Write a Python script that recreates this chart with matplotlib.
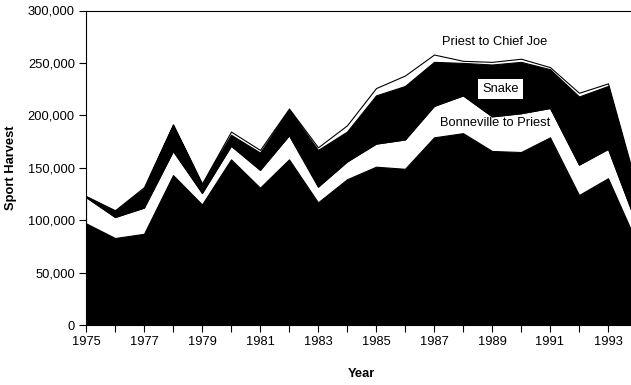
import matplotlib.pyplot as plt
from matplotlib.ticker import FuncFormatter

plt.rcParams['font.family'] = ['Liberation Sans', 'DejaVu Sans']

years = list(range(1975, 1995))
# sport harvest by reach (fish)
below_bonneville = [97000, 83000, 87000, 143000, 115000, 158000, 131000, 158000, 117000, 139000,
                    151000, 149000, 179000, 183000, 166000, 165000, 179000, 124000, 140000, 78000]
bonneville_priest = [25000, 20000, 25000, 23000, 11000, 13000, 17000, 23000, 15000, 17000,
                     22000, 28000, 30000, 36000, 33000, 37000, 28000, 29000, 28000, 17000]
snake = [500, 5500, 18000, 24500, 8000, 10500, 16500, 24000, 35000, 28500,
         46000, 51000, 42000, 31000, 49500, 49000, 37000, 65000, 60000, 33000]
priest_chief_joe = [500, 1000, 1500, 1000, 1000, 3000, 2500, 1500, 2500, 6000,
                    7000, 10000, 7000, 2000, 2500, 3000, 2000, 3500, 2500, 3000]

fig = plt.figure(figsize=(6.31, 3.85), dpi=100)
ax = fig.add_axes([86 / 631, 60 / 385, 551 / 631, 314.5 / 385])

ax.stackplot(years, below_bonneville, bonneville_priest, snake, priest_chief_joe,
             colors=['black', 'white', 'black', 'white'],
             edgecolor='black', linewidth=0.8)

ax.set_xlim(1975, 1994)
ax.set_ylim(0, 300000)
ax.set_xticks(years)
ax.set_xticklabels([str(y) if y % 2 == 1 else '' for y in years])
ax.set_yticks(range(0, 300001, 50000))
ax.yaxis.set_major_formatter(FuncFormatter(lambda v, p: f'{int(v):,}'))
ax.tick_params(direction='out', length=5, width=0.8, labelsize=9.3, pad=3)
ax.spines['right'].set_visible(False)
for s in ['left', 'top', 'bottom']:
    ax.spines[s].set_linewidth(0.8)

ax.set_xlabel('Year', fontsize=9.3, fontweight='bold', labelpad=14)
ax.set_ylabel('Sport Harvest', fontsize=9.3, fontweight='bold', labelpad=8)

ax.text(1989.1, 270000, 'Priest to Chief Joe', fontsize=9.3, ha='center', va='center')
ax.text(1989.3, 225000, 'Snake', fontsize=9.3, ha='center', va='center',
        bbox=dict(facecolor='white', edgecolor='none', pad=3))
ax.text(1989.1, 193000, 'Bonneville to Priest', fontsize=9.3, ha='center', va='center')

fig.savefig('out.png', dpi=100)
